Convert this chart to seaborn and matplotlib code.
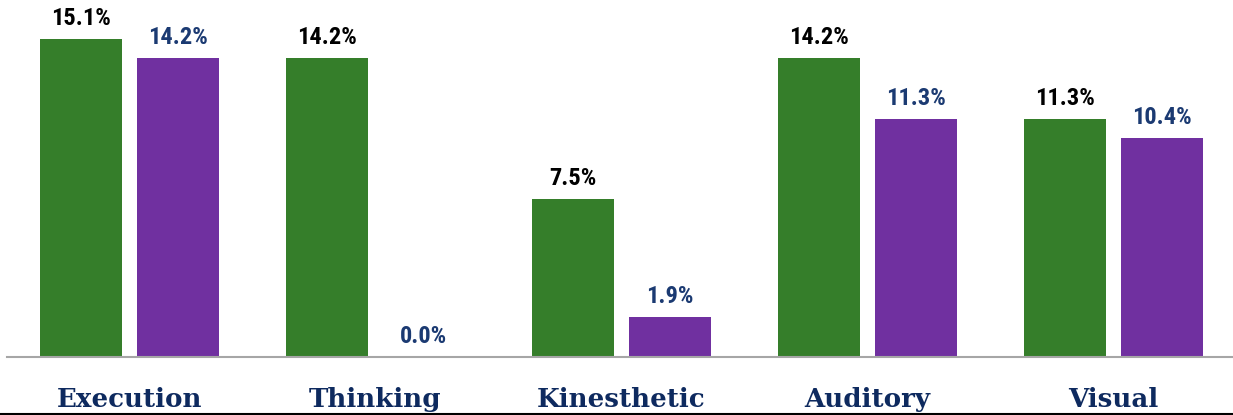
import matplotlib
matplotlib.use("Agg")
import matplotlib.pyplot as plt
import seaborn as sns
import pandas as pd
from matplotlib.lines import Line2D
from matplotlib import font_manager as fm

categories = ["Execution", "Thinking", "Kinesthetic", "Auditory", "Visual"]
series_a = [15.1, 14.2, 7.5, 14.2, 11.3]
series_b = [14.2, 0.0, 1.9, 11.3, 10.4]
series_names = ["Series A", "Series B"]

GREEN = "#357E2A"
PURPLE = "#7030A0"
NAVY = "#0E2A5F"
VAL_NAVY = "#1B3A72"


def pick_narrow_bold():
    prefs = ["liberationsansnarrow-bold.", "robotocondensed-bold.", "notosans-condensedbold.",
             "opensans-condensedbold.", "notosansdisplay-condensedbold.", "dejavusanscondensed-bold."]
    files = {f.fname.split("/")[-1].lower(): f.fname for f in fm.fontManager.ttflist}
    for p in prefs:
        for k, v in files.items():
            if k.startswith(p):
                return fm.FontProperties(fname=v), p
    return fm.FontProperties(family="DejaVu Sans", weight="bold", stretch="condensed"), "dejavu"


val_fp, val_name = pick_narrow_bold()
val_size = 17.6 if val_name.startswith(("liberation", "roboto")) else 15.5

df = pd.DataFrame({
    "category": categories * 2,
    "value": series_a + series_b,
    "series": [series_names[0]] * len(categories) + [series_names[1]] * len(categories),
})

sns.set_theme(style="white")
fig = plt.figure(figsize=(12.33, 4.15), dpi=100)
ax = fig.add_axes([0, 58 / 415, 1, 357 / 415])

sns.barplot(data=df, x="category", y="value", hue="series", order=categories,
            hue_order=series_names, palette=[GREEN, PURPLE], width=0.7886, gap=0.155,
            ax=ax, legend=False, saturation=1, edgecolor="none", linewidth=0)

ax.set_xlim(-129.5 / 246, (1233 - 129.5) / 246)
ax.set_ylim(0, 16.95)

for cont, col in zip(ax.containers, ["black", VAL_NAVY]):
    labels = [f"{v:.1f}%" for v in cont.datavalues]
    texts = ax.bar_label(cont, labels=labels, padding=6.5, color=col)
    for t in texts:
        t.set_fontproperties(val_fp)
        t.set_fontsize(val_size)

for s in ["top", "right", "left"]:
    ax.spines[s].set_visible(False)
ax.spines["bottom"].set_color("#A6A6A6")
ax.spines["bottom"].set_linewidth(1.5)
ax.spines["bottom"].set_bounds(-122.5 / 246, (1233 - 129.5) / 246)

ax.set_yticks([])
ax.set_xlabel("")
ax.set_ylabel("")
ax.tick_params(axis="x", length=0, pad=21.5)
for t in ax.get_xticklabels():
    t.set_fontfamily(["DejaVu Serif"])
    t.set_fontweight("bold")
    t.set_fontsize(18.8)
    t.set_color(NAVY)

fig.add_artist(Line2D([0, 1], [1.2 / 415, 1.2 / 415], color="black", lw=1.5,
                      transform=fig.transFigure))

fig.savefig("out.png", dpi=100)
